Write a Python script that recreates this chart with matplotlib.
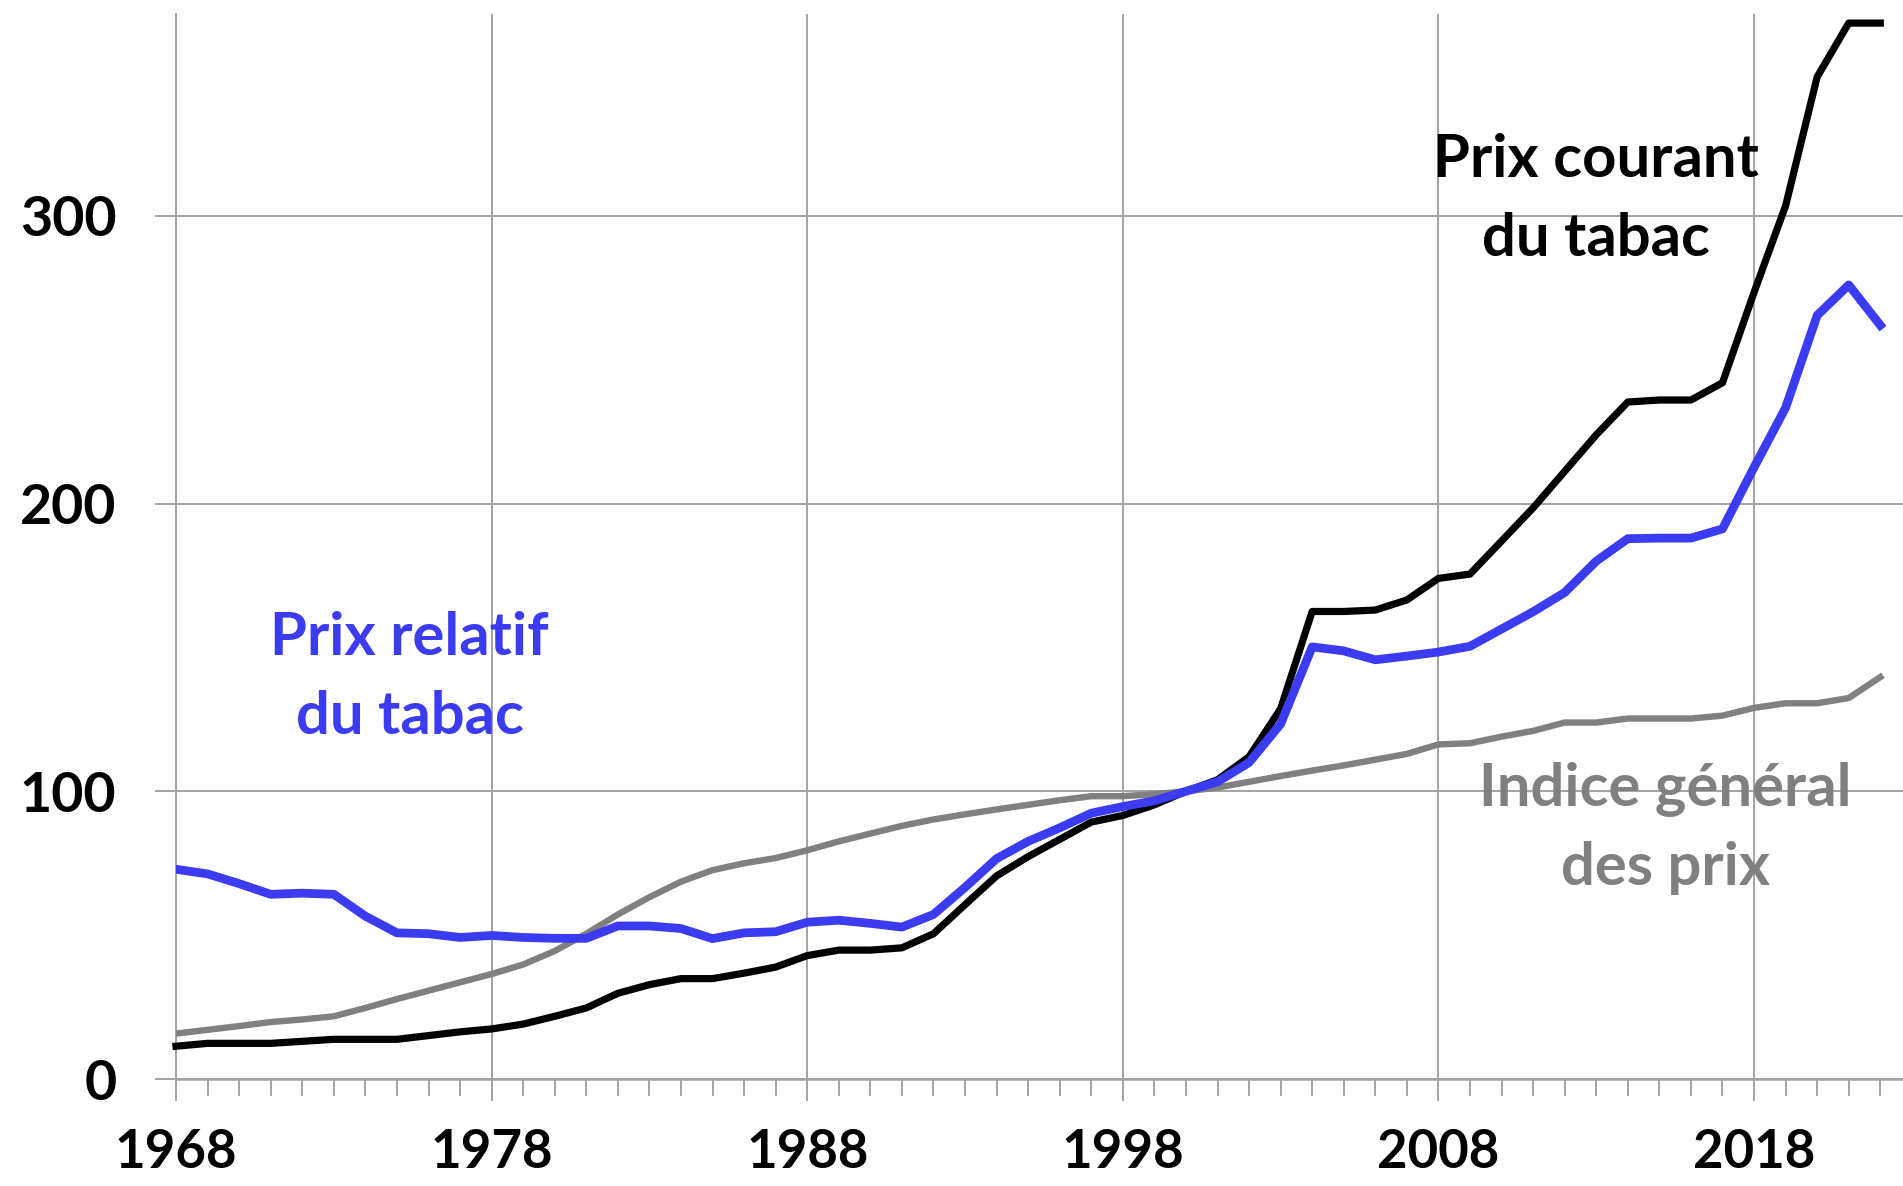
import matplotlib
matplotlib.use("Agg")
import matplotlib.pyplot as plt
from matplotlib.ticker import FixedLocator

plt.rcParams['font.family'] = ['Lato', 'DejaVu Sans']

# Data (index, base 100 in 2000)
years = list(range(1968, 2023))

prix_courant = [11.4, 12.4, 12.4, 12.4, 13.1, 13.8, 13.8, 13.8, 15.1, 16.4,
                17.4, 19.1, 21.8, 24.7, 29.8, 32.8, 34.9, 34.9, 36.8, 38.9,
                42.9, 44.8, 44.8, 45.6, 50.5, 60.6, 70.6, 77.3, 83.3, 89.3,
                91.6, 95.3, 100.0, 104.0, 112.0, 128.7, 162.5, 162.5, 163.0, 166.5,
                174.0, 175.5, 187.0, 198.5, 211.2, 223.9, 235.3, 236.0, 236.0, 242.0,
                273.4, 303.5, 348.3, 367.0, 367.0]

prix_relatif = [72.9, 71.3, 67.9, 64.2, 64.6, 64.2, 56.6, 50.8, 50.5, 49.2,
                49.9, 49.2, 48.9, 48.9, 53.2, 53.2, 52.3, 48.8, 50.8, 51.2,
                54.5, 55.2, 54.1, 52.8, 57.2, 66.6, 76.6, 82.6, 87.3, 92.4,
                94.7, 96.7, 100.0, 103.3, 110.0, 123.4, 150.2, 148.8, 145.7, 147.0,
                148.4, 150.4, 156.4, 162.4, 169.1, 180.0, 187.8, 188.0, 188.0, 191.2,
                212.6, 233.3, 265.4, 276.0, 262.0]

indice_general = [15.8, 17.1, 18.4, 19.8, 20.7, 21.8, 24.7, 27.8, 30.7, 33.6,
                  36.5, 39.8, 44.5, 50.5, 57.2, 63.2, 68.6, 72.6, 75.0, 76.8,
                  79.5, 82.6, 85.3, 88.0, 90.2, 92.0, 93.7, 95.3, 96.9, 98.3,
                  98.3, 99.0, 100.0, 101.3, 103.3, 105.3, 107.2, 109.0, 111.0, 113.0,
                  116.3, 116.7, 119.0, 121.0, 123.9, 123.9, 125.3, 125.3, 125.3, 126.3,
                  129.0, 130.6, 130.6, 132.4, 139.7]

xticks = [1968, 1978, 1988, 1998, 2008, 2018]
yticks = [0, 100, 200, 300]

grid_col = '#a3a3a3'
blue = '#3b3bf2'
grey = '#808080'

fig = plt.figure(figsize=(19.03, 11.86), dpi=100)
ax = fig.add_axes([0.0925, 0.0902, 1 - 0.0925, 0.9878 - 0.0902])

ax.plot(years, indice_general, color=grey, lw=4.6, solid_joinstyle='round', zorder=3)
ax.plot(years, prix_courant, color='black', lw=5.2, solid_joinstyle='round', zorder=4, clip_on=False)
ax.plot(years, prix_relatif, color=blue, lw=6.3, solid_joinstyle='round', zorder=5)

ax.set_xlim(1968, 2022.72)
ax.set_ylim(0, 370)

ax.xaxis.set_major_locator(FixedLocator(xticks))
ax.xaxis.set_minor_locator(FixedLocator(years))
ax.yaxis.set_major_locator(FixedLocator(yticks))
ax.set_xticklabels([str(y) for y in xticks])
ax.set_yticklabels([str(v) for v in yticks])

ax.grid(True, which='major', color=grid_col, lw=1.4)
ax.set_axisbelow(True)

for s in ['top', 'right']:
    ax.spines[s].set_visible(False)
ax.spines['left'].set_color(grid_col)
ax.spines['left'].set_linewidth(1.4)
ax.spines['bottom'].set_color(grid_col)
ax.spines['bottom'].set_linewidth(1.8)

ax.tick_params(axis='x', which='major', length=16, width=1.4, color=grid_col,
               pad=19, labelsize=38)
ax.tick_params(axis='x', which='minor', length=12, width=1.4, color=grid_col)
ax.tick_params(axis='y', which='major', length=15, width=1.4, color=grid_col,
               pad=28, labelsize=40)
for lab in ax.get_xticklabels() + ax.get_yticklabels():
    lab.set_fontweight('bold')

# Series labels (one baseline per line)
lab_kw = dict(fontsize=43, fontweight='bold', ha='center', va='baseline', zorder=6)
ax.text(2013.0, 313.5, 'Prix courant', color='black', **lab_kw)
ax.text(2013.0, 286.0, 'du tabac', color='black', **lab_kw)
ax.text(1975.4, 147.4, 'Prix relatif', color=blue, **lab_kw)
ax.text(1975.4, 119.9, 'du tabac', color=blue, **lab_kw)
ax.text(2015.2, 95.0, 'Indice général', color=grey, **lab_kw)
ax.text(2015.2, 67.6, 'des prix', color=grey, **lab_kw)

fig.savefig('out.png', dpi=100)
